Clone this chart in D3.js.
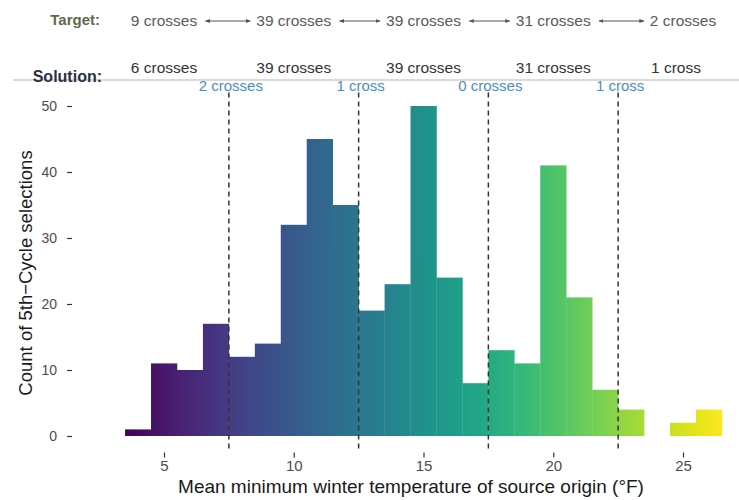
<!DOCTYPE html>
<html>
<head>
<meta charset="utf-8">
<script src="https://cdn.jsdelivr.net/npm/d3@7"></script>
<style>
  body { margin: 0; background: #fff; }
  svg { display: block; }
  text { font-family: "Liberation Sans", Arial, Helvetica, sans-serif; }
</style>
</head>
<body>
<svg id="chart" width="739" height="500"></svg>
<script>
// Histogram of selections by mean minimum winter temperature (1 °F bins)
const binCenters = [4, 5, 6, 7, 8, 9, 10, 11, 12, 13, 14, 15, 16, 17, 18, 19, 20, 21, 22, 23, 24, 25, 26];
const counts     = [1, 11, 10, 17, 12, 14, 32, 45, 35, 19, 23, 50, 24, 8, 13, 11, 41, 21, 7, 4, 0, 2, 4];

// Zone boundaries and the crossing counts for each zone
const zoneBreaks = [7.5, 12.5, 17.5, 22.5];
const zoneCenters = [5, 10, 15, 20, 25];
const targetLabels = ["9 crosses", "39 crosses", "39 crosses", "31 crosses", "2 crosses"];
const solutionLabels = ["6 crosses", "39 crosses", "39 crosses", "31 crosses", "1 cross"];
const breakLabels = ["2 crosses", "1 cross", "0 crosses", "1 cross"];

const xTicks = [5, 10, 15, 20, 25];
const yTicks = [0, 10, 20, 30, 40, 50];

const svg = d3.select("#chart");
const x = d3.scaleLinear().domain([5, 25]).range([164, 683]);
const y = d3.scaleLinear().domain([0, 50]).range([436, 106]);
const panelTop = y(52.5), panelBottom = y(-2.5);
const binW = 1;

// Viridis colour ramp across the temperature range
const defs = svg.append("defs");
const grad = defs.append("linearGradient")
  .attr("id", "viridisFill")
  .attr("gradientUnits", "userSpaceOnUse")
  .attr("x1", x(3.5)).attr("x2", x(26.5)).attr("y1", 0).attr("y2", 0);
d3.range(0, 1.0001, 0.05).forEach(t => {
  grad.append("stop").attr("offset", t).attr("stop-color", d3.interpolateViridis(t));
});

defs.append("marker")
  .attr("id", "arrowHead")
  .attr("viewBox", "0 0 10 10")
  .attr("refX", 9).attr("refY", 5)
  .attr("markerWidth", 5).attr("markerHeight", 5)
  .attr("markerUnits", "userSpaceOnUse")
  .attr("orient", "auto-start-reverse")
  .append("path").attr("d", "M0,1 L10,5 L0,9 z").attr("fill", "#555");

// Bars
const bins = binCenters.map((c, i) => ({ c, n: counts[i] })).filter(d => d.n > 0);
svg.append("g").selectAll("rect").data(bins).join("rect")
  .attr("x", d => x(d.c - binW / 2))
  .attr("width", d => x(d.c + binW / 2) - x(d.c - binW / 2) + 0.3)
  .attr("y", d => y(d.n))
  .attr("height", d => y(0) - y(d.n))
  .attr("fill", "url(#viridisFill)");

// Zone dividers
svg.append("g").selectAll("line").data(zoneBreaks).join("line")
  .attr("x1", d => x(d)).attr("x2", d => x(d))
  .attr("y1", panelTop + 3).attr("y2", panelBottom)
  .attr("stroke", "#333").attr("stroke-width", 1.5)
  .attr("stroke-dasharray", "5,4");

// Axes
const yAxis = svg.append("g")
  .attr("transform", "translate(72,0)")
  .call(d3.axisLeft(y).tickValues(yTicks).tickSize(5).tickPadding(10));
const xAxis = svg.append("g")
  .attr("transform", `translate(0,${panelBottom})`)
  .call(d3.axisBottom(x).tickValues(xTicks).tickSize(5).tickPadding(3));
[yAxis, xAxis].forEach(g => {
  g.select(".domain").remove();
  g.selectAll(".tick line").attr("stroke", "#333").attr("stroke-width", 1.2);
  g.selectAll(".tick text").attr("fill", "#4d4d4d").style("font-family", "'Liberation Sans', Arial, sans-serif");
});
yAxis.selectAll(".tick text").style("font-size", "14px");
xAxis.selectAll(".tick text").style("font-size", "15px");

svg.append("text")
  .attr("x", 411).attr("y", 493)
  .attr("text-anchor", "middle")
  .style("font-size", "19px").attr("fill", "#1a1a1a")
  .text("Mean minimum winter temperature of source origin (°F)");

svg.append("text")
  .attr("transform", "translate(32,273) rotate(-90)")
  .attr("text-anchor", "middle")
  .style("font-size", "18.5px").attr("fill", "#1a1a1a")
  .text("Count of 5th\u2212Cycle selections");

// Header: target and solution rows
svg.append("line")
  .attr("x1", 13).attr("x2", 739).attr("y1", 80).attr("y2", 80)
  .attr("stroke", "#cfcfcf").attr("stroke-width", 1.5);

svg.append("text")
  .attr("x", 100).attr("y", 25).attr("text-anchor", "end")
  .style("font-size", "15px").style("font-weight", "bold")
  .attr("fill", "#5b6b4c").text("Target:");
svg.append("text")
  .attr("x", 102).attr("y", 82).attr("text-anchor", "end")
  .style("font-size", "16px").style("font-weight", "bold")
  .attr("fill", "#2b3048").text("Solution:");

const targetText = svg.append("g").selectAll("text").data(targetLabels).join("text")
  .attr("x", (d, i) => x(zoneCenters[i])).attr("y", 26)
  .attr("text-anchor", "middle")
  .style("font-size", "15.5px").attr("fill", "#5a5a5a")
  .text(d => d);

svg.append("g").selectAll("text").data(solutionLabels).join("text")
  .attr("x", (d, i) => x(zoneCenters[i]) - (i === 4 ? 7 : 0)).attr("y", 73)
  .attr("text-anchor", "middle")
  .style("font-size", "15.5px").attr("fill", "#333")
  .text(d => d);

// Double-headed arrows between neighbouring target labels
const boxes = targetText.nodes().map(n => n.getBBox());
const arrows = zoneBreaks.map((b, i) => ({
  x1: boxes[i].x + boxes[i].width + 8,
  x2: boxes[i + 1].x - 6
}));
svg.append("g").selectAll("line").data(arrows).join("line")
  .attr("x1", d => d.x1).attr("x2", d => d.x2)
  .attr("y1", 21).attr("y2", 21)
  .attr("stroke", "#555").attr("stroke-width", 1)
  .attr("marker-start", "url(#arrowHead)")
  .attr("marker-end", "url(#arrowHead)");

// Crossing counts at each divider
svg.append("g").selectAll("text").data(breakLabels).join("text")
  .attr("x", (d, i) => x(zoneBreaks[i]) + 2).attr("y", 91)
  .attr("text-anchor", "middle")
  .style("font-size", "15px").attr("fill", "#4a8fbe")
  .text(d => d);
</script>
</body>
</html>
